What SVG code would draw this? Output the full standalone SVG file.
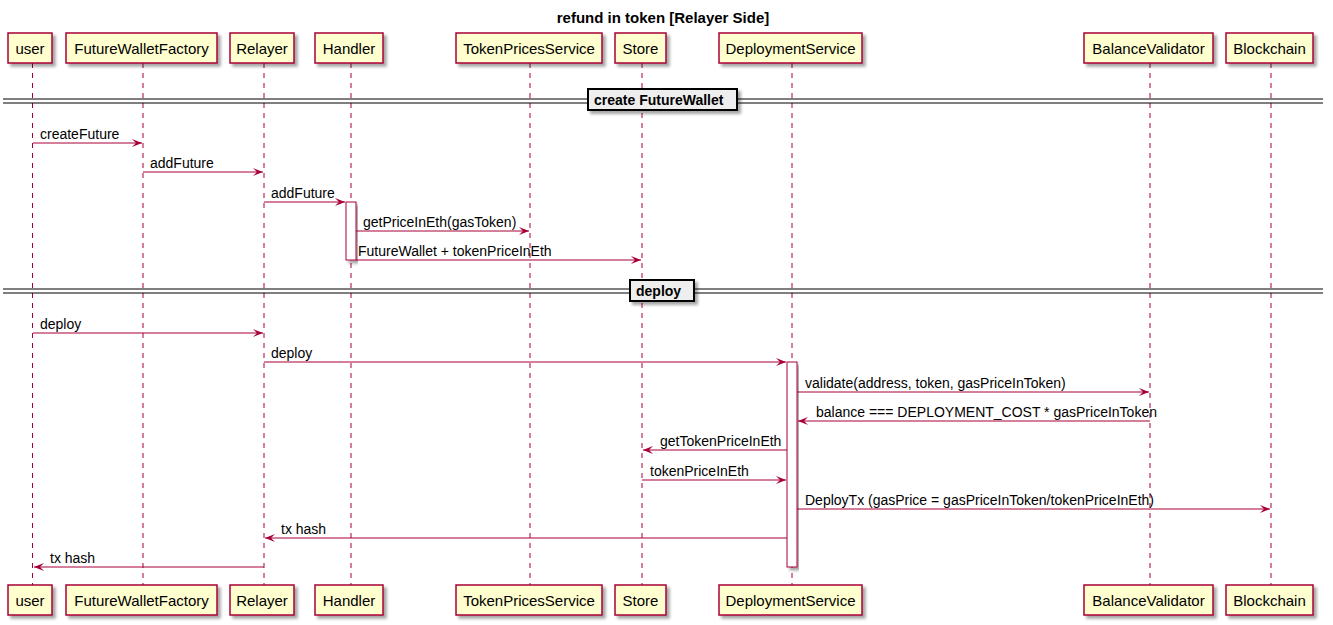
<svg xmlns="http://www.w3.org/2000/svg" width="1333" height="625" viewBox="0 0 1333 625">
<defs>
<filter id="sh" x="-10%" y="-10%" width="130%" height="150%"><feDropShadow dx="3" dy="3" stdDeviation="1.5" flood-color="#000" flood-opacity="0.35"/></filter>
<marker id="ah" viewBox="0 0 11 10" refX="10" refY="5" markerWidth="11" markerHeight="10" markerUnits="userSpaceOnUse" orient="auto"><path d="M0,1 L10,5 L0,9 L4,5 Z" fill="#A80036"/></marker>
</defs>
<style>
.p rect{fill:#FEFECE;stroke:#A80036;stroke-width:1.5;filter:url(#sh)}
.p text{font-family:"Liberation Sans",Arial,sans-serif;font-size:15px;fill:#000;text-anchor:middle}
.ll{stroke:#A80036;stroke-width:1;stroke-dasharray:5,5}
.m{stroke:#A80036;stroke-width:1;fill:none;marker-end:url(#ah)}
.t{font-family:"Liberation Sans",Arial,sans-serif;font-size:14px;fill:#000}
.act{fill:#FFFFFF;stroke:#A80036;stroke-width:1;filter:url(#sh)}
.dv line{stroke:#000;stroke-width:1}
.dv rect{fill:#EEEEEE;stroke:#000;stroke-width:2;filter:url(#sh)}
.dv text{font-family:"Liberation Sans",Arial,sans-serif;font-size:14px;font-weight:bold;fill:#000}
</style>
<rect width="1333" height="625" fill="#fff"/>
<text x="663" y="23" text-anchor="middle" style="font-family:'Liberation Sans',Arial,sans-serif;font-size:15px;font-weight:bold">refund in token [Relayer Side]</text>

<g id="lifelines">
<line class="ll" x1="32.5" y1="63" x2="32.5" y2="585"/>
<line class="ll" x1="143" y1="63" x2="143" y2="585"/>
<line class="ll" x1="264" y1="63" x2="264" y2="585"/>
<line class="ll" x1="351" y1="63" x2="351" y2="585"/>
<line class="ll" x1="530" y1="63" x2="530" y2="585"/>
<line class="ll" x1="642" y1="63" x2="642" y2="585"/>
<line class="ll" x1="792" y1="63" x2="792" y2="585"/>
<line class="ll" x1="1150" y1="63" x2="1150" y2="585"/>
<line class="ll" x1="1271" y1="63" x2="1271" y2="585"/>
</g>

<g id="user" class="p"><rect x="8" y="33" width="44" height="30"/><text x="30" y="53.5">user</text><rect x="8" y="585" width="44" height="30"/><text x="30" y="605.5">user</text></g>
<g id="FutureWalletFactory" class="p"><rect x="66" y="33" width="151" height="30"/><text x="141.5" y="53.5">FutureWalletFactory</text><rect x="66" y="585" width="151" height="30"/><text x="141.5" y="605.5">FutureWalletFactory</text></g>
<g id="Relayer" class="p"><rect x="230" y="33" width="64" height="30"/><text x="262" y="53.5">Relayer</text><rect x="230" y="585" width="64" height="30"/><text x="262" y="605.5">Relayer</text></g>
<g id="Handler" class="p"><rect x="315" y="33" width="68" height="30"/><text x="349" y="53.5">Handler</text><rect x="315" y="585" width="68" height="30"/><text x="349" y="605.5">Handler</text></g>
<g id="TokenPricesService" class="p"><rect x="456" y="33" width="146" height="30"/><text x="529" y="53.5">TokenPricesService</text><rect x="456" y="585" width="146" height="30"/><text x="529" y="605.5">TokenPricesService</text></g>
<g id="Store" class="p"><rect x="615" y="33" width="51" height="30"/><text x="640.5" y="53.5">Store</text><rect x="615" y="585" width="51" height="30"/><text x="640.5" y="605.5">Store</text></g>
<g id="DeploymentService" class="p"><rect x="719" y="33" width="143" height="30"/><text x="790.5" y="53.5">DeploymentService</text><rect x="719" y="585" width="143" height="30"/><text x="790.5" y="605.5">DeploymentService</text></g>
<g id="BalanceValidator" class="p"><rect x="1084" y="33" width="129" height="30"/><text x="1148.5" y="53.5">BalanceValidator</text><rect x="1084" y="585" width="129" height="30"/><text x="1148.5" y="605.5">BalanceValidator</text></g>
<g id="Blockchain" class="p"><rect x="1226" y="33" width="87" height="30"/><text x="1269.5" y="53.5">Blockchain</text><rect x="1226" y="585" width="87" height="30"/><text x="1269.5" y="605.5">Blockchain</text></g>

<g id="activations">
<rect class="act" x="346" y="202" width="10" height="58"/>
<rect class="act" x="787" y="362" width="10" height="205"/>
</g>

<g id="divider-create" class="dv">
<line x1="3" y1="99" x2="1323" y2="99"/><line x1="3" y1="103" x2="1323" y2="103"/>
<rect x="588" y="89" width="149" height="21"/>
<text x="594" y="105">create FutureWallet</text>
</g>
<g id="divider-deploy" class="dv">
<line x1="3" y1="289" x2="1323" y2="289"/><line x1="3" y1="293" x2="1323" y2="293"/>
<rect x="630" y="280" width="64" height="21"/>
<text x="636" y="296">deploy</text>
</g>

<g id="connectors">
<line class="m" x1="33" y1="143" x2="142" y2="143"/>
<text class="t" x="40" y="139">createFuture</text>
<line class="m" x1="143" y1="172" x2="263" y2="172"/>
<text class="t" x="150" y="168">addFuture</text>
<line class="m" x1="264" y1="202" x2="345" y2="202"/>
<text class="t" x="271" y="198">addFuture</text>
<line class="m" x1="356" y1="231" x2="529" y2="231"/>
<text class="t" x="363" y="227">getPriceInEth(gasToken)</text>
<line class="m" x1="356" y1="260" x2="641" y2="260"/>
<text class="t" x="358" y="256">FutureWallet + tokenPriceInEth</text>
<line class="m" x1="33" y1="333" x2="263" y2="333"/>
<text class="t" x="40" y="329">deploy</text>
<line class="m" x1="264" y1="362" x2="786" y2="362"/>
<text class="t" x="271" y="358">deploy</text>
<line class="m" x1="797" y1="392" x2="1149" y2="392"/>
<text class="t" x="805" y="388">validate(address, token, gasPriceInToken)</text>
<line class="m" x1="1150" y1="421" x2="798" y2="421"/>
<text class="t" x="816" y="417">balance === DEPLOYMENT_COST * gasPriceInToken</text>
<line class="m" x1="787" y1="450" x2="643" y2="450"/>
<text class="t" x="660" y="446">getTokenPriceInEth</text>
<line class="m" x1="642" y1="480" x2="786" y2="480"/>
<text class="t" x="650" y="476">tokenPriceInEth</text>
<line class="m" x1="797" y1="509" x2="1270" y2="509"/>
<text class="t" x="805" y="505">DeployTx (gasPrice = gasPriceInToken/tokenPriceInEth)</text>
<line class="m" x1="787" y1="538" x2="265" y2="538"/>
<text class="t" x="281" y="534">tx hash</text>
<line class="m" x1="264" y1="567" x2="34" y2="567"/>
<text class="t" x="50" y="563">tx hash</text>
</g>
</svg>
